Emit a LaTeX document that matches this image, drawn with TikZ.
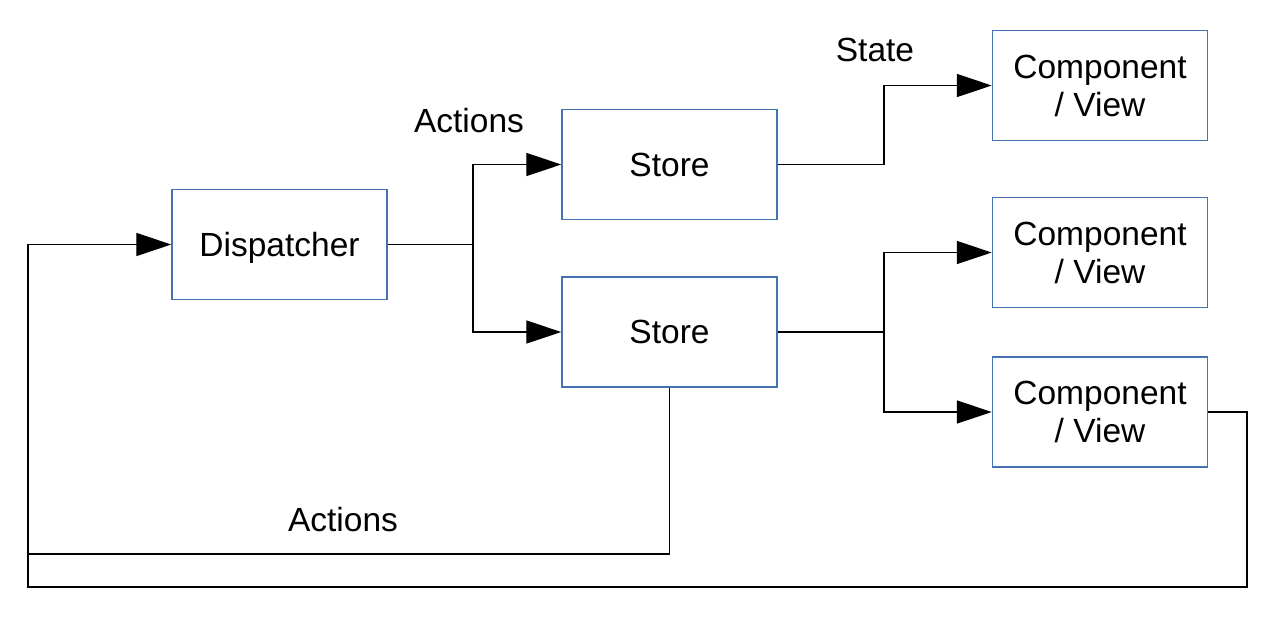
\documentclass[tikz,border=0pt]{standalone}
\usepackage{fontspec}
\setmainfont{Liberation Sans}
\usetikzlibrary{arrows.meta}
\definecolor{boxblue}{RGB}{68,114,176}
\begin{document}
\begin{tikzpicture}[x=1pt,y=-1pt,
  box/.style={draw=boxblue,line width=1.5pt,minimum width=215pt,minimum height=110pt,inner sep=0pt,align=center,
    font=\fontsize{33.5}{38}\selectfont},
  lbl/.style={anchor=base,inner sep=0pt,font=\fontsize{33.5}{38}\selectfont},
  conn/.style={line width=1.4pt,black},
  arr/.style={conn,-{Triangle[length=35pt,width=23pt]}}]
\useasboundingbox (0,0) rectangle (1280,624);
\node[box,text depth=0pt] (disp) at (279.5,244.5) {Dispatcher};
\node[box] (s1) at (669.5,164.5) {Store};
\node[box] (s2) at (669.5,332) {Store};
\node[box] (c1) at (1100,85.5) {Component\\/ View};
\node[box] (c2) at (1100,252.5) {Component\\/ View};
\node[box] (c3) at (1100,412) {Component\\/ View};
\node[lbl] (la1) at (469,132) {Actions};
\node[lbl] (ls) at (875,61.5) {State};
\node[lbl] (la2) at (343,531) {Actions};
\coordinate (j1) at (473,244.5);
\coordinate (j2) at (884,164.5);
\coordinate (j3) at (884,332);
\coordinate (l1) at (28,554);
\coordinate (r1) at (1247,587);
\coordinate (l2) at (28,587);
\draw[conn] (disp.east) -- (j1);
\draw[arr] (j1) |- (s1.west);
\draw[arr] (j1) |- (s2.west);
\draw[arr] (s1.east) -- (j2) |- (c1.west);
\draw[conn] (s2.east) -- (j3);
\draw[arr] (j3) |- (c2.west);
\draw[arr] (j3) |- (c3.west);
\draw[arr] (s2.south) |- (l1) |- (disp.west);
\draw[conn] (c3.east) -| (r1) -- (l2) -- (l1);
\end{tikzpicture}
\end{document}
